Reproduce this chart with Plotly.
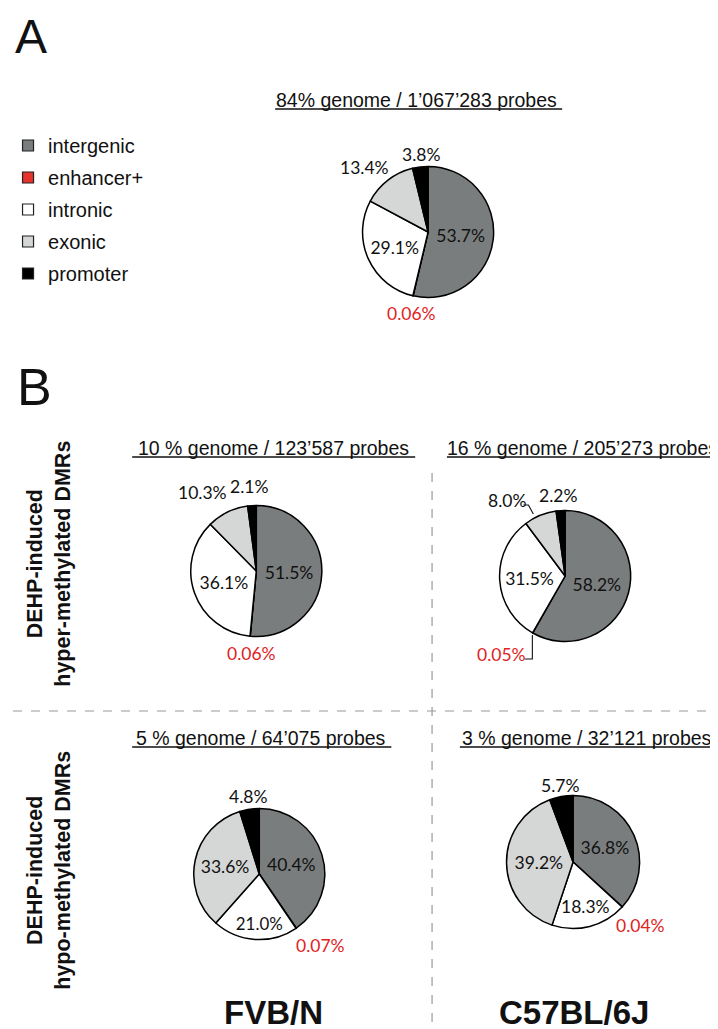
import plotly.graph_objects as go

W, H = 718, 1029

# ---------------- data ----------------
categories = ["intergenic", "enhancer+", "intronic", "exonic", "promoter"]
colors = ["#7a7d7d", "#e8322e", "#ffffff", "#d5d6d6", "#000000"]

all_probes = [53.7, 0.06, 29.1, 13.4, 3.8]
fvb_hyper = [51.5, 0.06, 36.1, 10.3, 2.1]
c57_hyper = [58.2, 0.05, 31.5, 8.0, 2.2]
fvb_hypo = [40.4, 0.07, 21.0, 33.6, 4.8]
c57_hypo = [36.8, 0.04, 18.3, 39.2, 5.7]

titles = [
    "84% genome / 1\u2019067\u2019283 probes",
    "10 % genome / 123\u2019587 probes",
    "16 % genome / 205\u2019273 probes",
    "5 % genome / 64\u2019075 probes",
    "3 % genome / 32\u2019121 probes",
]
row_labels = ["DEHP-induced<br>hyper-methylated DMRs", "DEHP-induced<br>hypo-methylated DMRs"]
strains = ["FVB/N", "C57BL/6J"]
panel_letters = ["A", "B"]

LABEL_FONT = "Lato"
TEXT_FONT = "Liberation Sans, Arial, sans-serif"
RED = "#e0241f"
LABEL_SIZE = 17.5


def fmt(v):
    return f"{v:.2f}%" if v < 1 else f"{v:.1f}%"


def px(x):
    return x / W


def py(y):
    return 1 - y / H


# pie layout: values, centre x, centre y, radius, which slices get inside text,
# and where the remaining labels sit (slice index -> (x, y))
pies = [
    (all_probes, 418, 224, 66, [0, 2], {3: (354, 159), 4: (411, 146), 1: (401, 305)}),
    (fvb_hyper, 245, 563, 66, [0, 2], {3: (191, 485), 4: (238, 479), 1: (240, 645)}),
    (c57_hyper, 556, 568, 66, [0, 2], {3: (497, 493), 4: (549, 487), 1: (492, 646)}),
    (fvb_hypo, 248, 866, 66, [0, 2, 3], {4: (237, 788), 1: (310, 937)}),
    (c57_hypo, 564, 854, 67, [0, 3], {2: (577, 898), 4: (551, 777), 1: (632, 917)}),
]

fig = go.Figure()
ann = []

for vals, cx, cy, r, inside, outside in pies:
    fig.add_trace(go.Pie(
        labels=categories,
        values=vals,
        text=[fmt(v) for v in vals],
        textinfo="text",
        textposition=["inside" if i in inside else "none" for i in range(len(vals))],
        insidetextorientation="horizontal",
        textfont=dict(family=LABEL_FONT, size=LABEL_SIZE, color="#111"),
        marker=dict(colors=colors, line=dict(color="#000", width=1.5)),
        sort=False,
        direction="clockwise",
        rotation=0,
        showlegend=False,
        hoverinfo="label+percent",
        domain=dict(x=[px(cx - r), px(cx + r)], y=[py(cy + r), py(cy - r)]),
    ))
    for i, (lx, ly) in outside.items():
        ann.append(dict(x=px(lx), y=py(ly), text=fmt(vals[i]), xanchor="center", yanchor="middle",
                        font=dict(family=LABEL_FONT, size=LABEL_SIZE, color=RED if i == 1 else "#111")))

# legend entries (one group each so spacing can be set)
for cat, col in zip(categories, colors):
    fig.add_trace(go.Scatter(
        x=[None], y=[None], mode="markers", name=cat,
        legendgroup=cat,
        marker=dict(symbol="square", size=11, color=col, line=dict(color="#222", width=1.2)),
    ))

# panel letters
ann.append(dict(x=px(0), y=1, text=panel_letters[0], xanchor="left", yanchor="top",
                font=dict(family=TEXT_FONT, size=48, color="#111")))
ann.append(dict(x=px(2), y=py(410), text=panel_letters[1], xanchor="left", yanchor="bottom",
                font=dict(family=TEXT_FONT, size=52, color="#111")))

# titles (x centre, y centre, underline x0, x1)
title_pos = [(406, 92, 264, 553), (262, 440, 120, 405), (573, 440, 437, 717),
             (250, 730, 120, 381), (578, 730, 450, 712)]
shapes = []
for t, (tx, ty, u0, u1) in zip(titles, title_pos):
    ann.append(dict(x=px(tx), y=py(ty), text=t, xanchor="center", yanchor="middle",
                    font=dict(family=TEXT_FONT, size=19.5, color="#111")))
    shapes.append(dict(type="line", xref="paper", yref="paper",
                       x0=px(u0), x1=px(u1), y0=py(ty + 9), y1=py(ty + 9),
                       line=dict(color="#111", width=1.3)))

# row labels
for lab, yc in zip(row_labels, [556, 862]):
    ann.append(dict(x=px(36), y=py(yc), text="<b>" + lab + "</b>", textangle=-90,
                    xanchor="center", yanchor="middle",
                    font=dict(family=TEXT_FONT, size=21.5, color="#111")))

# strain labels
for s, xc in zip(strains, [262, 565]):
    ann.append(dict(x=px(xc), y=py(1024), text="<b>" + s + "</b>", xanchor="center", yanchor="bottom",
                    borderpad=0, font=dict(family=TEXT_FONT, size=33, color="#111")))

# leader lines for the small C57BL/6J hyper slices
shapes.append(dict(type="path", xref="paper", yref="paper",
                   path=f"M {px(514)} {py(497)} L {px(519)} {py(497)} L {px(524)} {py(506)}",
                   line=dict(color="#111", width=1.1)))
shapes.append(dict(type="path", xref="paper", yref="paper",
                   path=f"M {px(523)} {py(627)} L {px(523)} {py(651)} L {px(515)} {py(651)}",
                   line=dict(color="#111", width=1.1)))

# dashed separators
shapes.append(dict(type="line", xref="paper", yref="paper", x0=0, x1=1, y0=py(703), y1=py(703),
                   line=dict(color="#9a9a9a", width=1.2, dash="dash")))
shapes.append(dict(type="line", xref="paper", yref="paper", x0=px(422), x1=px(422), y0=py(465), y1=0,
                   line=dict(color="#9a9a9a", width=1.2, dash="dash")))

for a in ann:
    a.update(xref="paper", yref="paper", showarrow=False)

fig.update_layout(
    width=W, height=H,
    margin=dict(l=0, r=0, t=0, b=0),
    paper_bgcolor="white", plot_bgcolor="white",
    xaxis=dict(visible=False), yaxis=dict(visible=False),
    annotations=ann, shapes=shapes,
    legend=dict(x=px(-5), y=py(118), xanchor="left", yanchor="top",
                font=dict(family=TEXT_FONT, size=20, color="#111"),
                tracegroupgap=3, bgcolor="rgba(0,0,0,0)", itemclick=False),
)

fig.write_html("out.html")
